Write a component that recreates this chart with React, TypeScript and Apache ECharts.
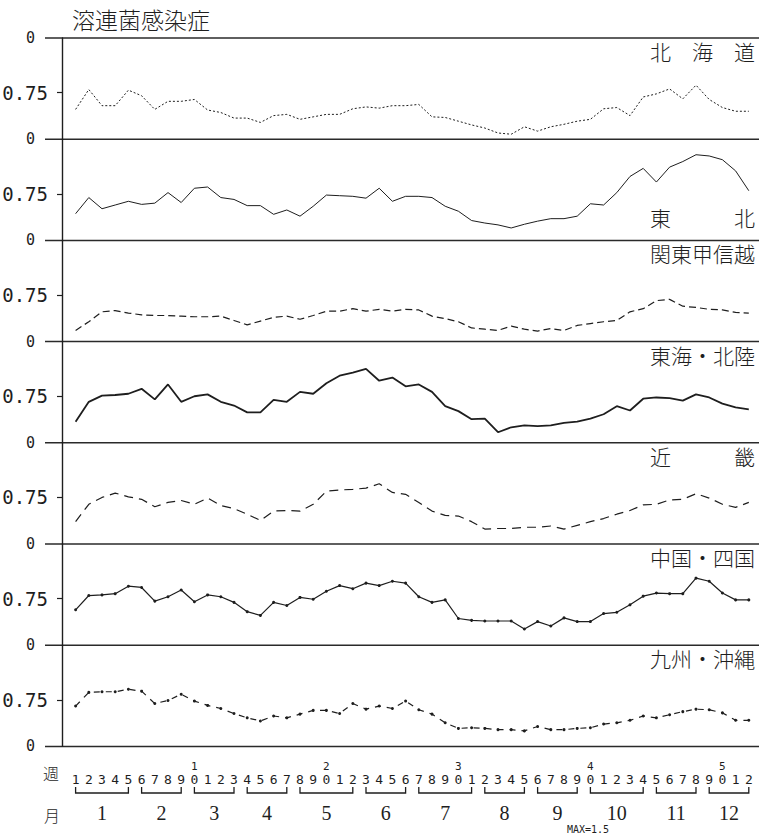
import React, { useEffect, useRef } from 'react';
import * as echarts from 'echarts';

// ---- data ----
const WEEKS = ['1','2','3','4','5','6','7','8','9','10','11','12','13','14','15','16','17','18','19','20','21','22','23','24','25','26','27','28','29','30','31','32','33','34','35','36','37','38','39','40','41','42','43','44','45','46','47','48','49','50','51','52'];
const MONTHS = ['1','2','3','4','5','6','7','8','9','10','11','12'];
const MONTH_START_WEEK = [1, 6, 10, 14, 18, 23, 27, 32, 36, 40, 45, 49];
const MONTH_END_WEEK = [5, 9, 13, 17, 22, 26, 31, 35, 39, 44, 48, 52];
const Y_TICK_VALUES = [0, 0.75];
const Y_MAX = 1.63;
const TITLE = '溶連菌感染症';
const REGIONS = ['北　海　道', '東　　　北', '関東甲信越', '東海・北陸', '近　　　畿', '中国・四国', '九州・沖縄'];

const HOKKAIDO = [0.48,0.80,0.54,0.54,0.79,0.70,0.48,0.61,0.61,0.64,0.47,0.43,0.34,0.34,0.27,0.38,0.40,0.32,0.36,0.40,0.40,0.49,0.52,0.50,0.54,0.54,0.56,0.36,0.35,0.29,0.23,0.18,0.10,0.08,0.20,0.13,0.20,0.24,0.29,0.32,0.49,0.51,0.38,0.68,0.73,0.81,0.65,0.87,0.64,0.51,0.45,0.45];
const TOHOKU = [0.43,0.69,0.51,0.57,0.63,0.58,0.60,0.77,0.61,0.84,0.86,0.69,0.66,0.56,0.56,0.42,0.49,0.39,0.55,0.73,0.72,0.71,0.68,0.84,0.63,0.71,0.71,0.69,0.55,0.47,0.32,0.28,0.25,0.20,0.26,0.31,0.35,0.35,0.39,0.59,0.57,0.77,1.03,1.16,0.94,1.18,1.27,1.38,1.36,1.30,1.12,0.80];
const KANTO = [0.18,0.32,0.48,0.50,0.46,0.43,0.42,0.42,0.41,0.40,0.40,0.41,0.34,0.27,0.33,0.39,0.41,0.36,0.42,0.49,0.49,0.53,0.49,0.52,0.49,0.52,0.51,0.41,0.37,0.32,0.22,0.20,0.18,0.25,0.20,0.17,0.21,0.18,0.26,0.29,0.32,0.34,0.48,0.53,0.66,0.68,0.57,0.55,0.52,0.51,0.47,0.46];
const TOKAI = [0.34,0.66,0.76,0.77,0.79,0.87,0.70,0.94,0.66,0.75,0.78,0.66,0.60,0.49,0.49,0.69,0.66,0.82,0.79,0.96,1.08,1.13,1.19,1.00,1.05,0.91,0.94,0.82,0.59,0.51,0.38,0.39,0.17,0.25,0.28,0.27,0.28,0.32,0.34,0.39,0.46,0.59,0.52,0.71,0.73,0.72,0.68,0.78,0.73,0.63,0.57,0.54];
const KINKI = [0.36,0.64,0.75,0.82,0.76,0.72,0.60,0.67,0.70,0.64,0.74,0.62,0.57,0.48,0.38,0.53,0.54,0.53,0.64,0.85,0.87,0.88,0.90,0.97,0.83,0.80,0.67,0.53,0.46,0.45,0.36,0.24,0.25,0.25,0.27,0.27,0.29,0.24,0.30,0.36,0.41,0.48,0.54,0.63,0.64,0.71,0.72,0.81,0.74,0.64,0.59,0.67];
const CHUGOKU = [0.57,0.80,0.81,0.83,0.95,0.93,0.71,0.78,0.89,0.70,0.81,0.78,0.69,0.54,0.48,0.69,0.64,0.77,0.74,0.87,0.96,0.91,1.00,0.96,1.03,1.00,0.78,0.69,0.73,0.43,0.40,0.39,0.39,0.39,0.26,0.38,0.31,0.44,0.38,0.38,0.51,0.53,0.65,0.79,0.84,0.83,0.83,1.08,1.03,0.84,0.73,0.73];
const KYUSHU = [0.65,0.87,0.88,0.88,0.92,0.89,0.69,0.74,0.84,0.73,0.66,0.61,0.53,0.46,0.41,0.49,0.46,0.52,0.58,0.58,0.53,0.69,0.60,0.65,0.61,0.73,0.59,0.52,0.38,0.29,0.30,0.29,0.27,0.27,0.25,0.32,0.27,0.27,0.29,0.30,0.36,0.38,0.42,0.49,0.46,0.51,0.56,0.60,0.59,0.54,0.42,0.42];

const SERIES_DATA = [HOKKAIDO, TOHOKU, KANTO, TOKAI, KINKI, CHUGOKU, KYUSHU];

// ---- layout / style ----
const W = 759, H = 835;
const TOP0 = 38, PH = 101.2;
const GL = 75.6, GR = 10.2;
const INK = '#1e1e1e';
const CJK = '"Noto Sans CJK JP", sans-serif';
const MONO = '"DejaVu Sans Mono", monospace';

const LINE_STYLES: any[] = [
  { lineStyle: { type: [2, 2], width: 1 }, symbol: 'none' },
  { lineStyle: { type: 'solid', width: 1 }, symbol: 'none' },
  { lineStyle: { type: [7, 4], width: 1.2 }, symbol: 'none' },
  { lineStyle: { type: 'solid', width: 1.8 }, symbol: 'none' },
  { lineStyle: { type: [9, 6], width: 1.2 }, symbol: 'none' },
  { lineStyle: { type: 'solid', width: 1.2 }, symbol: 'circle', symbolSize: 3 },
  { lineStyle: { type: [6, 6], width: 1.2 }, symbol: 'circle', symbolSize: 3 },
];

export default function App() {
  const ref = useRef<HTMLDivElement>(null);
  useEffect(() => {
    if (!ref.current) return;
    const chart = echarts.init(ref.current, null, { renderer: 'svg' });
    const grids: any[] = [];
    const xAxes: any[] = [];
    const yAxes: any[] = [];
    const series: any[] = [];
    const graphics: any[] = [];

    SERIES_DATA.forEach((data, i) => {
      const top = TOP0 + i * PH;
      grids.push({ left: GL, right: GR, top, height: PH, outerBoundsMode: 'none' });
      const last = i === SERIES_DATA.length - 1;
      xAxes.push({
        type: 'category', gridIndex: i, data: WEEKS, boundaryGap: false,
        axisLine: { show: false }, axisTick: { show: false }, splitLine: { show: false },
        axisLabel: last ? {
          show: true, interval: 0, margin: 14.5,
          formatter: (v: string) => {
            const w = Number(v);
            const sup = w % 10 === 0 ? String(w / 10) : ' ';
            return `{s|${sup}}\n{d|${w % 10}}`;
          },
          rich: {
            s: { fontSize: 11, lineHeight: 12, fontFamily: MONO, color: INK },
            d: { fontSize: 13, lineHeight: 14, fontFamily: MONO, color: INK },
          },
        } : { show: false },
      });
      yAxes.push({
        type: 'value', gridIndex: i, min: 0, max: Y_MAX, offset: GL - 62,
        axisLine: { show: true, lineStyle: { color: INK, width: 1.4 } },
        axisTick: { show: true, customValues: [Y_TICK_VALUES[1]], length: 5, lineStyle: { color: INK, width: 1.2 } },
        axisLabel: {
          show: true,
          customValues: i === 0 ? [...Y_TICK_VALUES, Y_MAX] : Y_TICK_VALUES,
          margin: 14,
          formatter: (v: number) => (v === Y_TICK_VALUES[1] ? `{a|${Y_TICK_VALUES[1]}}` : '{z|0}'),
          rich: {
            a: { fontSize: 19, fontFamily: MONO, color: INK },
            z: { fontSize: 15, fontFamily: MONO, color: INK, padding: [0, 13, 0, 0] },
          },
        },
        splitLine: { show: false },
      });
      const st = LINE_STYLES[i];
      series.push({
        type: 'line', xAxisIndex: i, yAxisIndex: i, data,
        symbol: st.symbol, symbolSize: st.symbolSize || 0, showSymbol: st.symbol !== 'none',
        lineStyle: { ...st.lineStyle, color: INK },
        itemStyle: { color: INK },
        silent: true,
      });
      graphics.push({
        type: 'text', x: 755, y: top + (i === 1 ? 78 : 13),
        style: { text: REGIONS[i], fontSize: 21, fontWeight: 300, fontFamily: CJK, fill: INK, align: 'right', verticalAlign: 'middle' },
      });
    });

    // boundary lines
    for (let k = 0; k <= SERIES_DATA.length; k++) {
      const y = TOP0 + k * PH;
      graphics.push({ type: 'line', shape: { x1: 45, y1: y, x2: W, y2: y }, style: { stroke: '#2a2a2a', lineWidth: 1.5 } });
    }

    // month bracket grid
    const gi = SERIES_DATA.length;
    grids.push({ left: GL, right: GR, top: 750, height: 80, outerBoundsMode: 'none' });
    xAxes.push({ type: 'category', gridIndex: gi, data: WEEKS, boundaryGap: false, show: false });
    yAxes.push({ type: 'value', gridIndex: gi, min: 0, max: 1, show: false });
    series.push({
      type: 'custom', xAxisIndex: gi, yAxisIndex: gi, silent: true,
      data: MONTHS.map((_, k) => [MONTH_START_WEEK[k] - 1, MONTH_END_WEEK[k] - 1]),
      renderItem: (params: any, api: any) => {
        const p0 = api.coord([api.value(0), 0]);
        const p1 = api.coord([api.value(1), 0]);
        const top = params.coordSys.y;
        const yT = top + 37, yB = top + 43, yL = top + 63;
        return {
          type: 'group',
          children: [
            { type: 'polyline', shape: { points: [[p0[0], yT], [p0[0], yB], [p1[0], yB], [p1[0], yT]] }, style: { stroke: INK, lineWidth: 1.3, fill: null } },
            { type: 'text', x: (p0[0] + p1[0]) / 2, y: yL, style: { text: MONTHS[params.dataIndex], fontSize: 20, fontFamily: '"Liberation Serif", serif', fill: INK, align: 'center', verticalAlign: 'middle' } },
          ],
        };
      },
    });

    graphics.push({ type: 'text', x: 72, y: 19, style: { text: TITLE, fontSize: 23, fontWeight: 300, fontFamily: CJK, fill: INK, align: 'left', verticalAlign: 'middle' } });
    graphics.push({ type: 'text', x: 51, y: 773, style: { text: '週', fontSize: 16, fontWeight: 300, fontFamily: CJK, fill: INK, align: 'center', verticalAlign: 'middle' } });
    graphics.push({ type: 'text', x: 52, y: 815, style: { text: '月', fontSize: 16, fontWeight: 300, fontFamily: CJK, fill: INK, align: 'center', verticalAlign: 'middle' } });
    graphics.push({ type: 'text', x: 588, y: 829, style: { text: 'MAX=1.5', fontSize: 10, fontFamily: MONO, fill: INK, align: 'center', verticalAlign: 'middle' } });

    chart.setOption({
      animation: false,
      backgroundColor: '#ffffff',
      grid: grids,
      xAxis: xAxes,
      yAxis: yAxes,
      series,
      graphic: graphics,
    });
    return () => chart.dispose();
  }, []);
  return <div ref={ref} style={{ position: 'absolute', left: 0, top: 0, width: W, height: H }} />;
}
